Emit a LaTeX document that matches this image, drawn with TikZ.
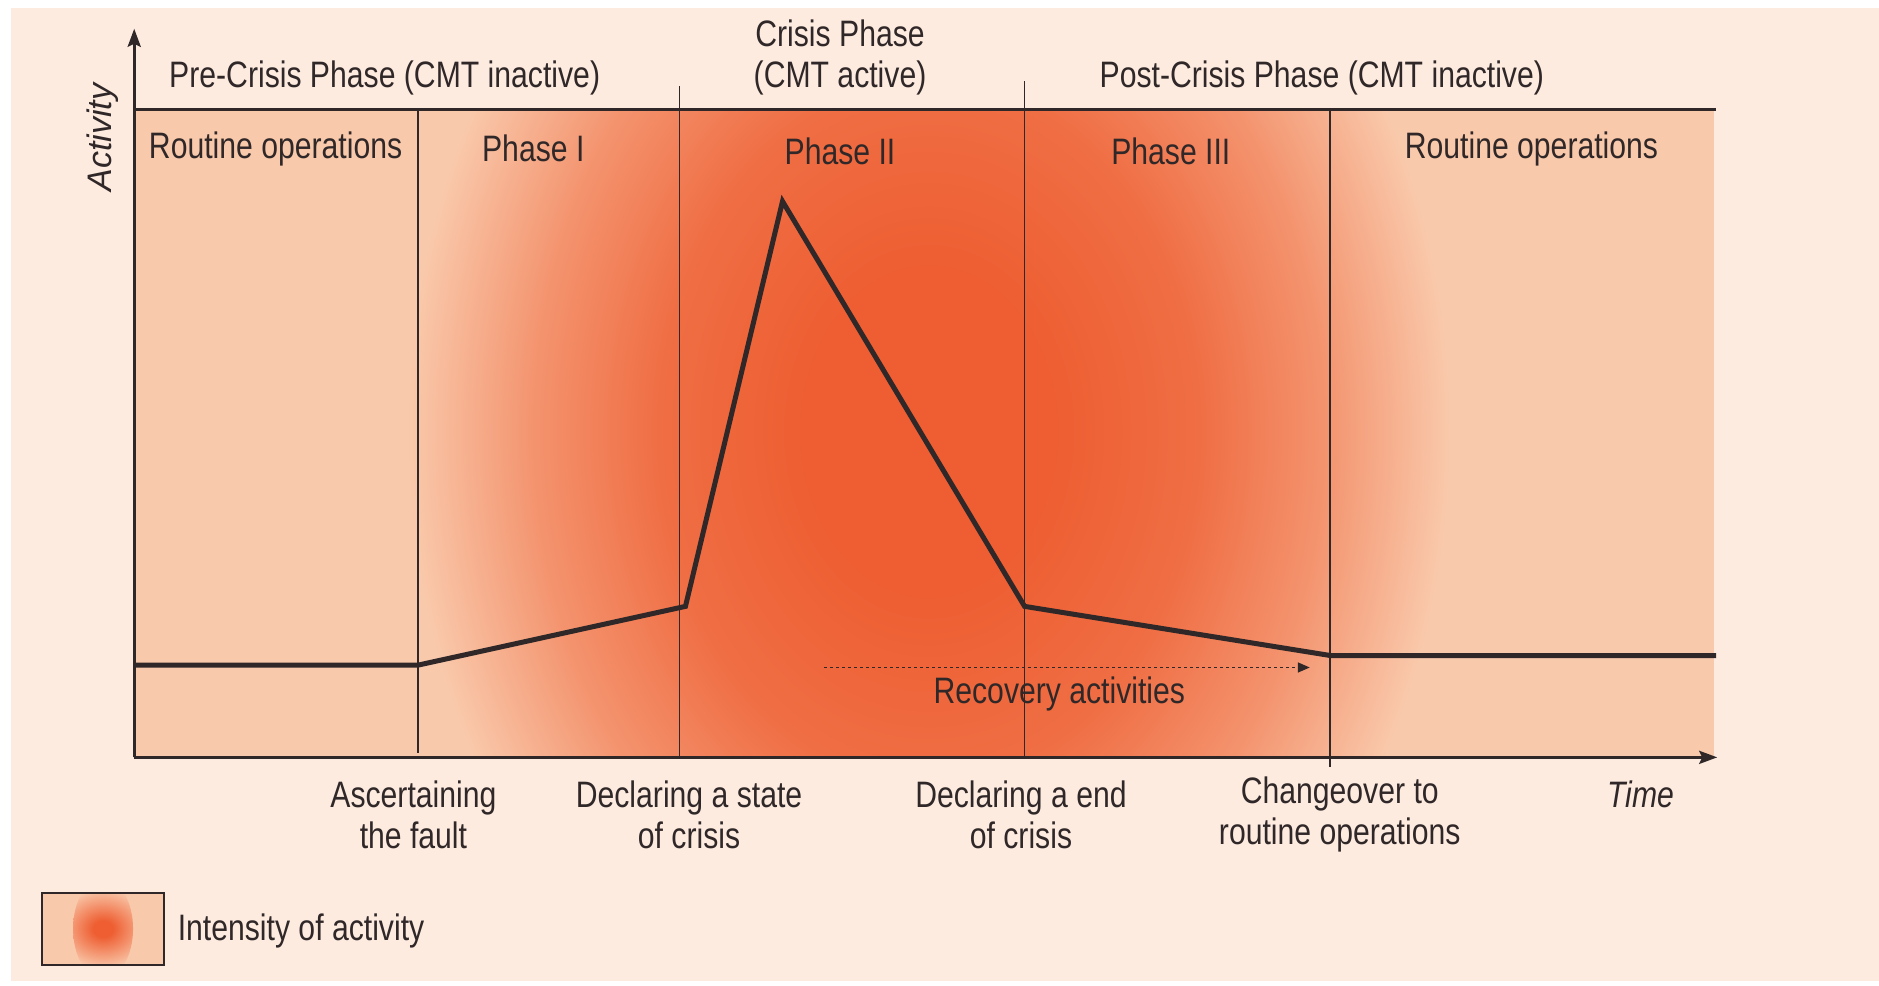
\documentclass[tikz,border=0pt]{standalone}
\usepackage{fontspec}
\setmainfont{Liberation Sans}[FakeStretch=0.82]
\newfontfamily\actfont{Liberation Sans}
\usetikzlibrary{arrows.meta}
\definecolor{pagebg}{RGB}{253,235,224}
\definecolor{basec}{RGB}{249,201,171}
\definecolor{hot}{RGB}{238,94,50}
\definecolor{ink}{RGB}{48,40,40}
\colorlet{hotb}{hot!85!basec}
\colorlet{midc}{hot!50!basec}
\pgfdeclareradialshading{intensity}{\pgfpoint{0bp}{0bp}}{color(0bp)=(hot); color(6bp)=(hot); color(13bp)=(hotb); color(19bp)=(midc); color(25bp)=(basec); color(50bp)=(basec)}
\pgfdeclareradialshading{blob}{\pgfpoint{0bp}{0bp}}{color(0bp)=(hot); color(4bp)=(hot); color(12bp)=(midc); color(20bp)=(basec); color(50bp)=(basec)}
\tikzset{
  lbl/.style={text=ink, inner sep=0pt, font=\fontsize{18.4}{20.4}\selectfont, align=center},
  divider/.style={draw=ink, line width=0.9pt},
  axisline/.style={draw=ink, line width=1.5pt},
  curve/.style={draw=ink, line width=2.5pt, line join=miter},
}
\begin{document}
\begin{tikzpicture}[x=0.5992pt, y=-0.5992pt]
\useasboundingbox (0,0) rectangle (1568,822);
\fill[white] (0,0) rectangle (1568,822);
\fill[pagebg] (9,7) rectangle (1568,819);
% plot area
\coordinate (tl) at (112,91);
\coordinate (br) at (1430,632);
\fill[basec] (tl) rectangle (br);
\begin{scope}
  \clip (tl) rectangle (br);
  \shade[shading=intensity] (340,-200) rectangle (1210,920);
\end{scope}
% recovery label (under the divider)
\node[lbl] (rec) at (884,579) {Recovery activities};
% dividers
\coordinate (d1t) at (349,91);   \coordinate (d1b) at (349,628);
\coordinate (d2t) at (567,72);   \coordinate (d2b) at (567,632);
\coordinate (d3t) at (855,68);   \coordinate (d3b) at (855,632);
\coordinate (d4t) at (1110,91);  \coordinate (d4b) at (1110,640);
\draw[divider] (d1t) -- (d1b);
\draw[divider] (d2t) -- (d2b);
\draw[divider] (d3t) -- (d3b);
\draw[divider] (d4t) -- (d4b);
% axes
\coordinate (origin) at (112,632);
\coordinate (ytip) at (112,24);
\coordinate (xtip) at (1433,632);
\coordinate (topr) at (1432,91);
\draw[axisline] (tl) -- (topr);
\draw[axisline, -{Stealth[length=9pt,width=6.5pt,inset=1.5pt]}] (origin) -- (ytip);
\draw[axisline, -{Stealth[length=9pt,width=6.5pt,inset=1.5pt]}] (origin) -- (xtip);
% activity curve
\coordinate (c0) at (112,555);
\coordinate (c1) at (349,555);
\coordinate (c2) at (572,506);
\coordinate (c3) at (653,168);
\coordinate (c4) at (855,506);
\coordinate (c5) at (1110,547);
\coordinate (c6) at (1432,547);
\draw[curve] (c0) -- (c1) -- (c2) -- (c3) -- (c4) -- (c5) -- (c6);
% recovery arrow
\coordinate (ra) at (688,557);
\coordinate (rb) at (1093,557);
\draw[ink, line width=0.8pt, dash pattern=on 1.5pt off 1.5pt, -{Triangle[length=6pt,width=5pt]}] (ra) -- (rb);
% top labels
\node[lbl] (pre) at (321,65) {Pre-Crisis Phase (CMT inactive)};
\node[lbl] (crisis) at (701,48) {Crisis Phase\\(CMT active)};
\node[lbl] (post) at (1103,65) {Post-Crisis Phase (CMT inactive)};
\node[lbl] (r1) at (230,124) {Routine operations};
\node[lbl] (p1) at (445,124) {Phase I};
\node[lbl] (p2) at (701,126) {Phase II};
\node[lbl] (p3) at (977,126) {Phase III};
\node[lbl] (r2) at (1278,124) {Routine operations};
\node[lbl, rotate=90, font=\actfont\itshape\fontsize{17}{19}\selectfont] (act) at (86,115) {Activity};
% bottom labels
\node[lbl] (b1) at (345,680) {Ascertaining\\the fault};
\node[lbl] (b2) at (575,680) {Declaring a state\\of crisis};
\node[lbl] (b3) at (852,680) {Declaring a end\\of crisis};
\node[lbl] (b4) at (1118,680) {Changeover to\\routine operations};
\node[lbl, font=\itshape\fontsize{18.4}{20.4}\selectfont] (time) at (1369,663) {Time};
% legend
\node[draw=ink, line width=1pt, fill=basec, minimum width=61pt, minimum height=36pt, inner sep=0pt,
  path picture={\shade[shading=blob] (path picture bounding box.center) ellipse [x radius=15pt, y radius=25pt];}]
  (legbox) at (86,775) {};
\node[lbl, anchor=west] (leg) at (148,777) {Intensity of activity};
\end{tikzpicture}
\end{document}
